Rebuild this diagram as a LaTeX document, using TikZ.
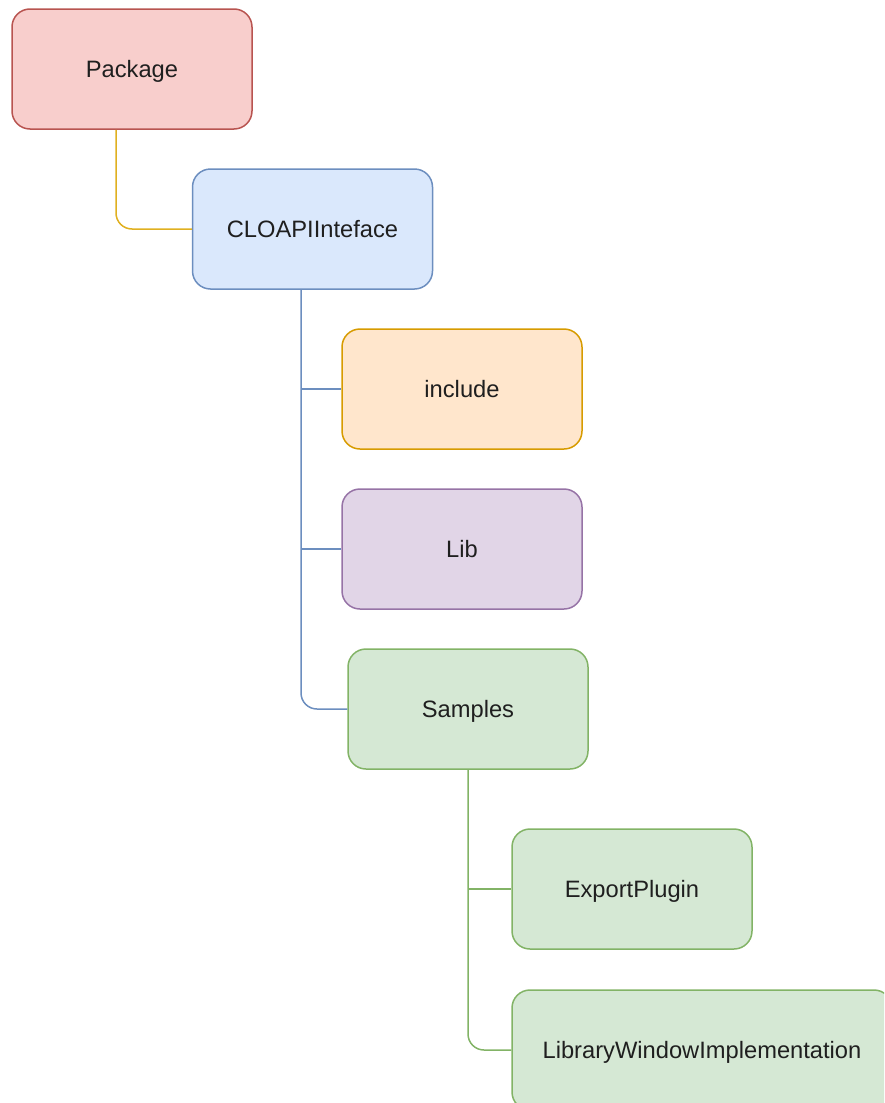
\documentclass[tikz,border=0pt]{standalone}
\usepackage{fontspec}
\setmainfont{Liberation Sans}
\definecolor{redfill}{HTML}{F8CECC}\definecolor{redline}{HTML}{B85450}
\definecolor{bluefill}{HTML}{DAE8FC}\definecolor{blueline}{HTML}{6C8EBF}
\definecolor{orangefill}{HTML}{FFE6CC}\definecolor{orangeline}{HTML}{D79B00}
\definecolor{purplefill}{HTML}{E1D5E7}\definecolor{purpleline}{HTML}{9673A6}
\definecolor{greenfill}{HTML}{D5E8D4}\definecolor{greenline}{HTML}{82B366}
\definecolor{yellowedge}{HTML}{E0B020}
\definecolor{txt}{HTML}{1F1F1F}
\begin{document}
\begin{tikzpicture}[x=1pt,y=-1pt,
  box/.style={rectangle,rounded corners=18pt,line width=1.5pt,minimum width=240pt,minimum height=120pt,inner sep=0pt,font=\fontsize{23.7}{28}\selectfont,text=txt,text height=17pt,text depth=0pt},
  redbox/.style={box,fill=redfill,draw=redline},
  bluebox/.style={box,fill=bluefill,draw=blueline},
  orangebox/.style={box,fill=orangefill,draw=orangeline},
  purplebox/.style={box,fill=purplefill,draw=purpleline},
  greenbox/.style={box,fill=greenfill,draw=greenline},
  link/.style={line width=1.5pt,rounded corners=16pt}]
\useasboundingbox (0,0) rectangle (884,1103);
\clip (0,0) rectangle (884,1103);
\node[redbox] (package) at (132,69) {Package};
\node[bluebox] (cloapi) at (312.5,229) {CLOAPIInteface};
\node[orangebox] (include) at (462,389) {include};
\node[purplebox] (lib) at (462,549) {Lib};
\node[greenbox] (samples) at (468,709) {Samples};
\node[greenbox] (export) at (632,889) {ExportPlugin};
\node[greenbox,minimum width=380pt] (libwin) at (702,1050) {LibraryWindowImplementation};
\coordinate (pkgout) at ([xshift=-16pt]package.south);
\coordinate (apiout) at ([xshift=-11.5pt]cloapi.south);
\draw[link,draw=yellowedge] (pkgout) |- (cloapi.west);
\draw[link,draw=blueline] (apiout) |- (samples.west);
\draw[line width=1.5pt,draw=blueline] (apiout |- include.west) -- (include.west);
\draw[line width=1.5pt,draw=blueline] (apiout |- lib.west) -- (lib.west);
\draw[link,draw=greenline] (samples.south) |- (libwin.west);
\draw[line width=1.5pt,draw=greenline] (samples.south |- export.west) -- (export.west);
\end{tikzpicture}
\end{document}
